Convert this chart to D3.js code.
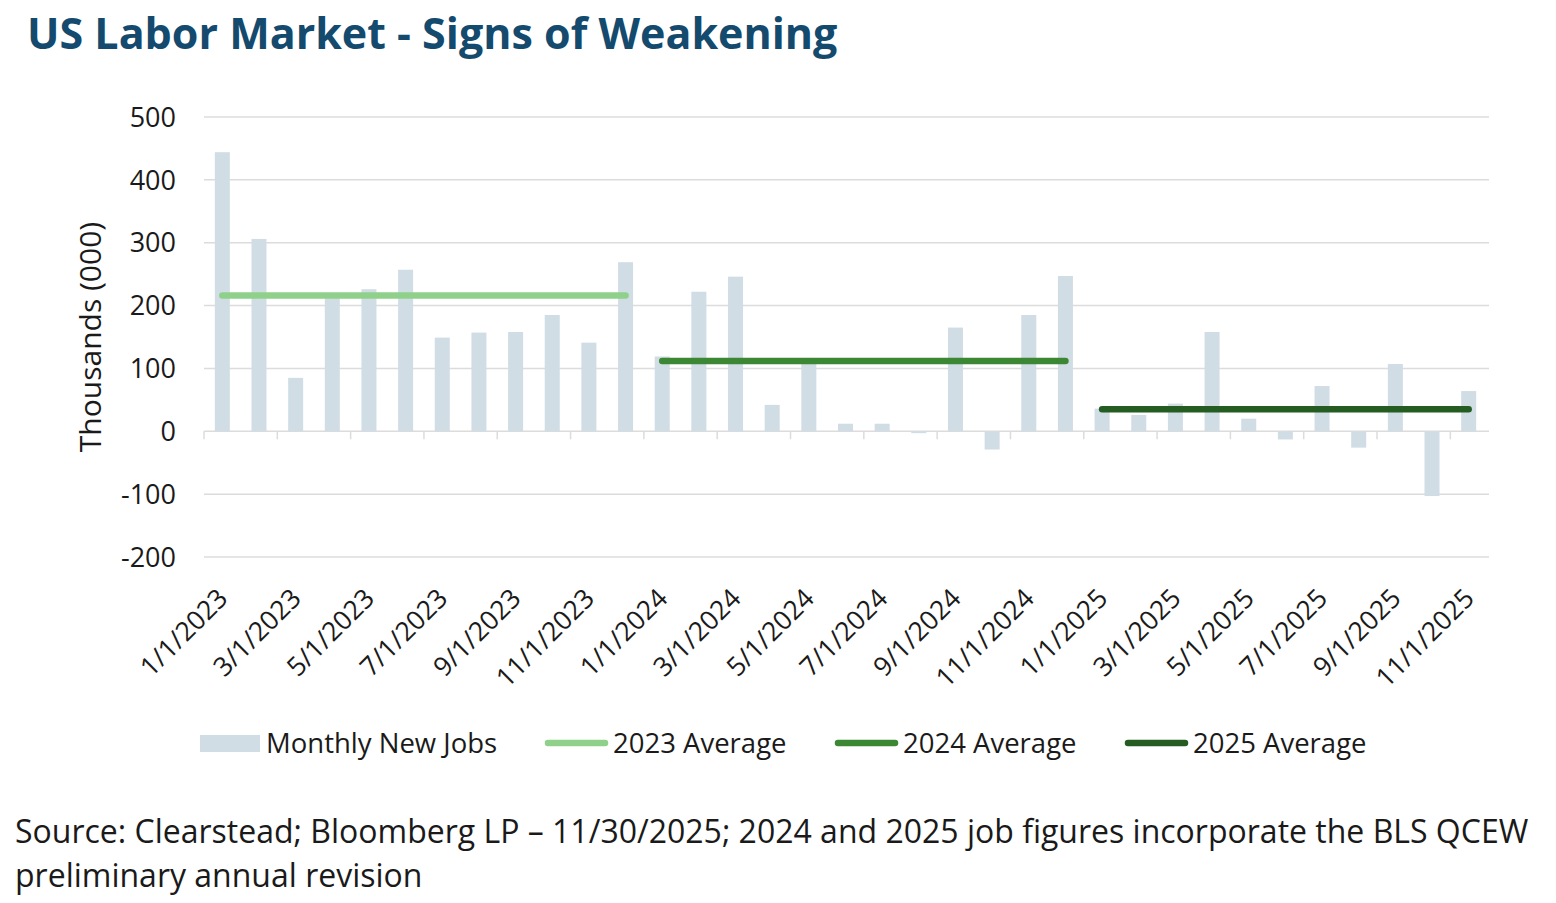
<!DOCTYPE html>
<html>
<head>
<meta charset="utf-8">
<script src="https://cdn.jsdelivr.net/npm/d3@7"></script>
<style>
  body { margin: 0; background: #fff; }
  text { font-family: "Open Sans", sans-serif; }
</style>
</head>
<body>
<div id="chart"></div>
<script>
// monthly payroll changes, thousands
const months = [
  '1/1/2023','2/1/2023','3/1/2023','4/1/2023','5/1/2023','6/1/2023','7/1/2023','8/1/2023','9/1/2023','10/1/2023','11/1/2023','12/1/2023',
  '1/1/2024','2/1/2024','3/1/2024','4/1/2024','5/1/2024','6/1/2024','7/1/2024','8/1/2024','9/1/2024','10/1/2024','11/1/2024','12/1/2024',
  '1/1/2025','2/1/2025','3/1/2025','4/1/2025','5/1/2025','6/1/2025','7/1/2025','8/1/2025','9/1/2025','10/1/2025','11/1/2025'
];
const newJobs = [
  444, 306, 85, 212, 226, 257, 149, 157, 158, 185, 141, 269,
  119, 222, 246, 42, 110, 12, 12, -3, 165, -29, 185, 247,
  36, 26, 44, 158, 20, -13, 72, -26, 107, -103, 64
];
const averages = [
  {name: '2023 Average', from: '1/1/2023', to: '12/1/2023', value: 216},
  {name: '2024 Average', from: '1/1/2024', to: '12/1/2024', value: 112},
  {name: '2025 Average', from: '1/1/2025', to: '11/1/2025', value: 35}
];
const avgColors = ['#8fd18a', '#3b8733', '#255c22'];
const yTicks = [-200, -100, 0, 100, 200, 300, 400, 500];

const W = 1556, H = 903;
const svg = d3.select('#chart').append('svg')
    .attr('width', W).attr('height', H);

svg.append('text')
    .attr('x', 27).attr('y', 49)
    .attr('font-size', 43).attr('font-weight', 700)
    .attr('fill', '#134a6e')
    .text('US Labor Market - Signs of Weakening');

let x = d3.scaleBand()
    .domain(months)
    .range([204, 1487]);

let y = d3.scaleLinear()
    .domain([-200, 500])
    .range([557, 117]);

// gridlines + y labels
svg.append('g')
  .selectAll('line')
  .data(yTicks)
  .enter()
  .append('line')
    .attr('x1', 204).attr('x2', 1489)
    .attr('y1', d => y(d)).attr('y2', d => y(d))
    .attr('stroke', '#dcdcdc').attr('stroke-width', 1.5);

svg.append('g')
  .selectAll('text')
  .data(yTicks)
  .enter()
  .append('text')
    .attr('x', 176).attr('y', d => y(d))
    .attr('dy', '0.36em')
    .attr('text-anchor', 'end')
    .attr('font-size', 27)
    .attr('fill', '#1a1a1a')
    .text(d => d);

svg.append('text')
    .attr('transform', `translate(101,${y(150)}) rotate(-90)`)
    .attr('text-anchor', 'middle')
    .attr('font-size', 30)
    .attr('fill', '#1a1a1a')
    .text('Thousands (000)');

// bars
const barW = 15;
svg.append('g')
  .selectAll('rect')
  .data(newJobs)
  .enter()
  .append('rect')
    .attr('x', (d, i) => x(months[i]) + x.bandwidth() / 2 - barW / 2)
    .attr('y', d => y(Math.max(0, d)))
    .attr('width', barW)
    .attr('height', d => Math.abs(y(d) - y(0)))
    .attr('fill', '#d1dde5');

// tick marks on the zero line, every second month
svg.append('g')
  .selectAll('line')
  .data(months.filter((m, i) => i % 2 === 0))
  .enter()
  .append('line')
    .attr('x1', d => x(d)).attr('x2', d => x(d))
    .attr('y1', y(0)).attr('y2', y(0) + 8)
    .attr('stroke', '#dcdcdc').attr('stroke-width', 1.5);

// x labels
svg.append('g')
  .selectAll('text')
  .data(months.filter((m, i) => i % 2 === 0))
  .enter()
  .append('text')
    .attr('transform', d => `translate(${x(d) + x.bandwidth() / 2 + 7},600) rotate(-45)`)
    .attr('text-anchor', 'end')
    .attr('font-size', 26.5)
    .attr('fill', '#1a1a1a')
    .text(d => d);

// average lines
svg.append('g')
  .selectAll('line')
  .data(averages)
  .enter()
  .append('line')
    .attr('x1', d => x(d.from) + x.bandwidth() / 2)
    .attr('x2', d => x(d.to) + x.bandwidth() / 2)
    .attr('y1', d => y(d.value)).attr('y2', d => y(d.value))
    .attr('stroke', (d, i) => avgColors[i])
    .attr('stroke-width', 6.5)
    .attr('stroke-linecap', 'round');

// legend
const lg = svg.append('g').attr('font-size', 27.5).attr('fill', '#1a1a1a');
lg.append('rect').attr('x', 200).attr('y', 735).attr('width', 60).attr('height', 17).attr('fill', '#d1dde5');
lg.append('text').attr('x', 266).attr('y', 743).attr('dy', '0.36em').text('Monthly New Jobs');
const legX = [545, 835, 1125];
averages.forEach((a, i) => {
  lg.append('line')
    .attr('x1', legX[i] + 3).attr('x2', legX[i] + 60)
    .attr('y1', 743).attr('y2', 743)
    .attr('stroke', avgColors[i]).attr('stroke-width', 6.5)
    .attr('stroke-linecap', 'round');
  lg.append('text').attr('x', legX[i] + 68).attr('y', 743).attr('dy', '0.36em').text(a.name);
});

// source note
const src = svg.append('text').attr('font-size', 32).attr('fill', '#1a1a1a');
src.append('tspan').attr('x', 15).attr('y', 843)
   .text('Source: Clearstead; Bloomberg LP \u2013 11/30/2025; 2024 and 2025 job figures incorporate the BLS QCEW');
src.append('tspan').attr('x', 15).attr('y', 887)
   .text('preliminary annual revision');
</script>
</body>
</html>
